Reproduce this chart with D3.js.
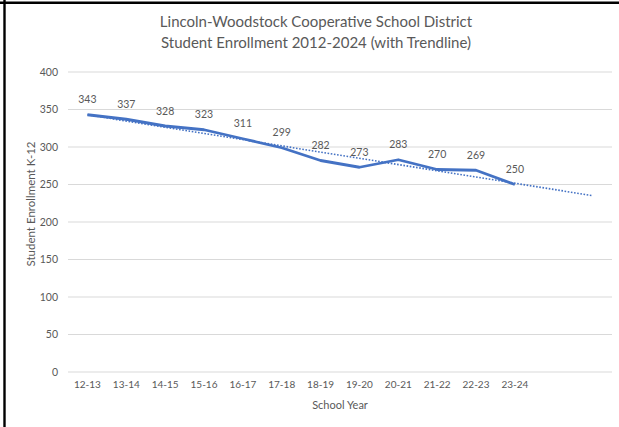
<!DOCTYPE html>
<html lang="en">
  <head>
    <meta charset="UTF-8" />
    <title>Lincoln-Woodstock Enrollment</title>
    <script src="https://d3js.org/d3.v7.min.js"></script>
    <style>
      body { margin: 0; background: #fff; }
      svg { display: block; }
      text { font-family: "Liberation Sans Narrow", Lato, "Open Sans", sans-serif; fill: #595959; }
      .title { font-family: Lato, sans-serif; }
    </style>
  </head>
  <body>
    <svg id="chart" width="619" height="427"></svg>
    <script>
      // data
      const years = ["12-13", "13-14", "14-15", "15-16", "16-17", "17-18",
                     "18-19", "19-20", "20-21", "21-22", "22-23", "23-24"];
      const enrollment = [343, 337, 328, 323, 311, 299, 282, 273, 283, 270, 269, 250];
      const forecastPeriods = 2;
      const yTicks = [0, 50, 100, 150, 200, 250, 300, 350, 400];

      const width = 619, height = 427;
      const margin = { top: 72, right: 7, bottom: 55, left: 68 };
      const svg = d3.select("#chart");

      // category slots incl. the forecast ones (unlabelled)
      const slots = d3.range(years.length + forecastPeriods);
      const x = d3.scaleBand()
        .domain(slots)
        .range([margin.left, width - margin.right]);
      const cx = i => x(i) + x.bandwidth() / 2;

      const y = d3.scaleLinear()
        .domain([0, 400])
        .range([height - margin.bottom, margin.top]);

      // frame (left + top only)
      svg.append("line").attr("x1", 4.5).attr("x2", 4.5).attr("y1", 0).attr("y2", height)
        .attr("stroke", "#000").attr("stroke-width", 2.4);
      svg.append("line").attr("x1", 0).attr("x2", width).attr("y1", 2.7).attr("y2", 2.7)
        .attr("stroke", "#000").attr("stroke-width", 2.4);

      // gridlines
      svg.append("g")
        .selectAll("line")
        .data(yTicks)
        .join("line")
        .attr("x1", margin.left)
        .attr("x2", width - margin.right)
        .attr("y1", d => y(d))
        .attr("y2", d => y(d))
        .attr("stroke", "#d9d9d9")
        .attr("stroke-width", 1);

      // y axis labels
      const yAxis = d3.axisLeft(y).tickValues(yTicks).tickSize(0).tickPadding(10);
      svg.append("g")
        .attr("transform", `translate(${margin.left},0)`)
        .call(yAxis)
        .call(g => g.select(".domain").remove())
        .call(g => g.selectAll("text").style("font-size", "10.5px").attr("fill", "#595959"));

      // x axis labels
      const xAxis = d3.axisBottom(x).tickSize(0).tickPadding(9)
        .tickFormat(i => years[i] || "");
      svg.append("g")
        .attr("transform", `translate(0,${height - margin.bottom})`)
        .call(xAxis)
        .call(g => g.select(".domain").remove())
        .call(g => g.selectAll("text").style("font-size", "10px").attr("fill", "#595959"));

      // linear trendline (least squares over the 12 years), extended 2 periods
      const xs = enrollment.map((d, i) => i);
      const mx = d3.mean(xs), my = d3.mean(enrollment);
      const slope = d3.sum(xs, (v, i) => (v - mx) * (enrollment[i] - my)) /
                    d3.sum(xs, v => (v - mx) * (v - mx));
      const icept = my - slope * mx;
      const tEnd = slots.length - 1;
      svg.append("line")
        .attr("x1", cx(0)).attr("y1", y(icept))
        .attr("x2", cx(tEnd)).attr("y2", y(icept + slope * tEnd))
        .attr("stroke", "#4472c4")
        .attr("stroke-width", 1.6)
        .attr("stroke-dasharray", "1.6,1.6");

      // series line
      const line = d3.line().x((d, i) => cx(i)).y(d => y(d));
      svg.append("path")
        .datum(enrollment)
        .attr("d", line)
        .attr("fill", "none")
        .attr("stroke", "#4472c4")
        .attr("stroke-width", 2.8)
        .attr("stroke-linejoin", "round");

      // data labels
      svg.append("g")
        .selectAll("text")
        .data(enrollment)
        .join("text")
        .attr("x", (d, i) => cx(i))
        .attr("y", d => y(d) - 11.5)
        .attr("text-anchor", "middle")
        .style("font-size", "10.5px")
        .text(d => d);

      // titles
      const title = svg.append("text")
        .attr("class", "title")
        .attr("x", 316)
        .attr("text-anchor", "middle")
        .style("font-size", "15px");
      title.append("tspan").attr("x", 316).attr("y", 27)
        .text("Lincoln-Woodstock Cooperative School District");
      title.append("tspan").attr("x", 316).attr("y", 48)
        .text("Student Enrollment 2012-2024 (with Trendline)");

      svg.append("text")
        .attr("x", 340)
        .attr("y", 409)
        .attr("text-anchor", "middle")
        .style("font-size", "11px")
        .text("School Year");

      svg.append("text")
        .attr("transform", "translate(35,204) rotate(-90)")
        .attr("text-anchor", "middle")
        .style("font-size", "11.5px")
        .text("Student Enrollment K-12");
    </script>
  </body>
</html>
